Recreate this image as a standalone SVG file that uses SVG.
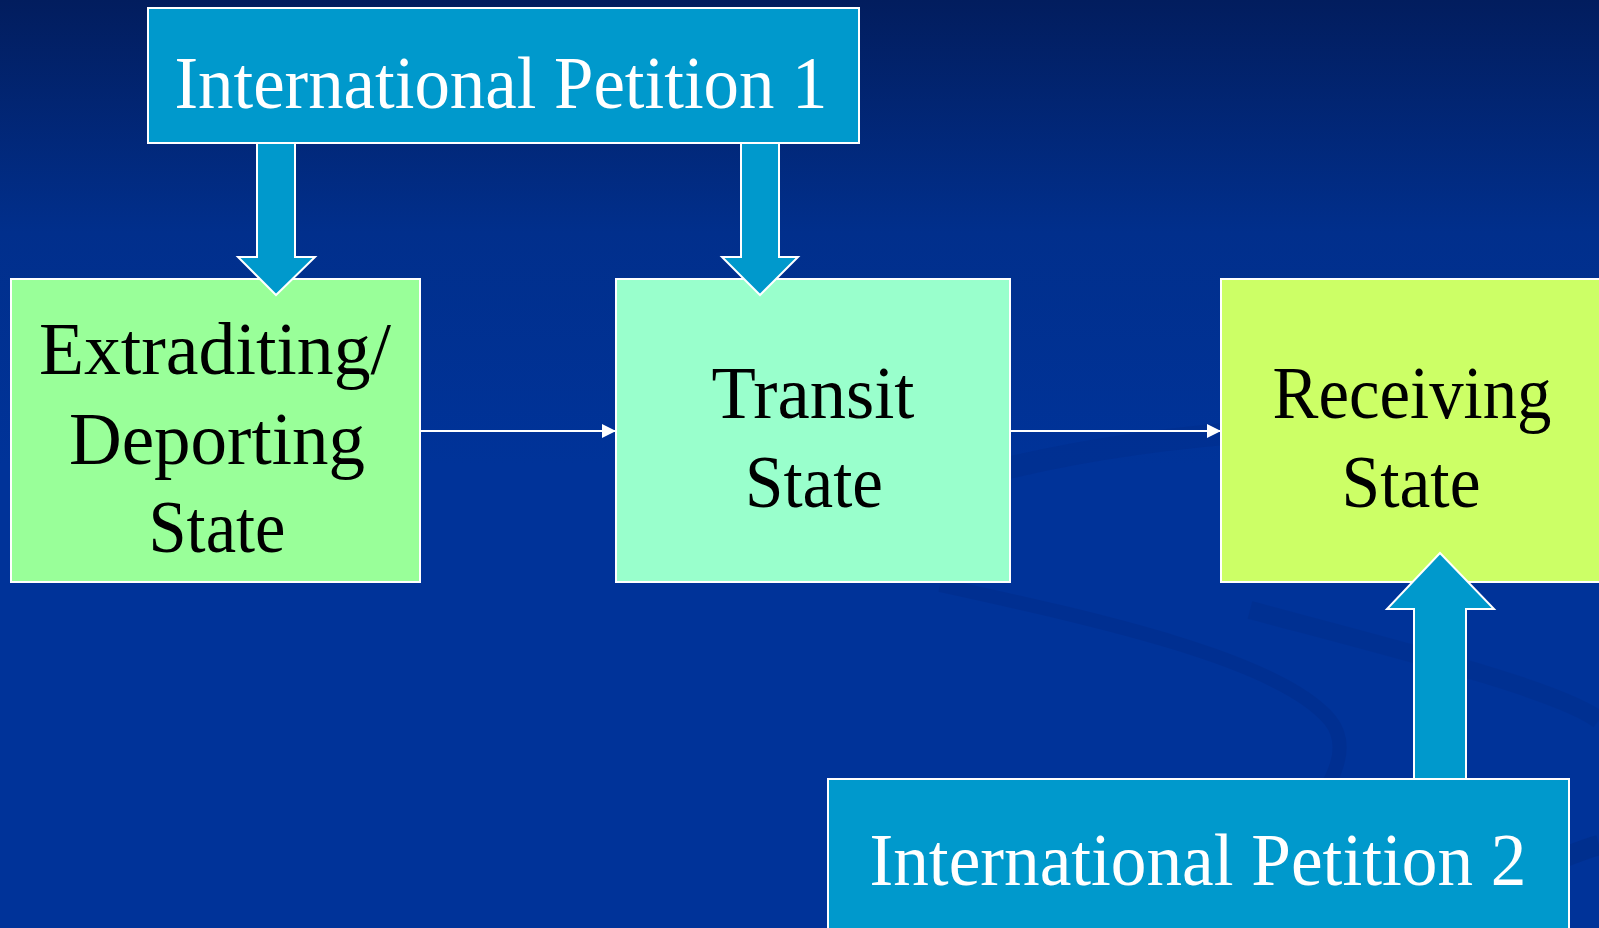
<svg xmlns="http://www.w3.org/2000/svg" width="1599" height="928" viewBox="0 0 1599 928">
<defs>
<linearGradient id="bg" x1="0" y1="0" x2="0" y2="1">
<stop offset="0" stop-color="#021d5e"/>
<stop offset="0.25" stop-color="#012f8c"/>
<stop offset="0.5" stop-color="#003399"/>
<stop offset="1" stop-color="#003399"/>
</linearGradient>
<marker id="ah" viewBox="0 0 10 10" refX="10" refY="5" markerWidth="14" markerHeight="14" markerUnits="userSpaceOnUse" orient="auto">
<path d="M0,0 L10,5 L0,10 z" fill="#ffffff"/>
</marker>
</defs>
<style>
.petition{fill:#0099cc;stroke:#ffffff;stroke-width:2}
.state{stroke:#ffffff;stroke-width:2}
.big{fill:#0099cc;stroke:#ffffff;stroke-width:2;stroke-linejoin:miter}
.lbl{font-family:"Liberation Serif","Times New Roman",serif;font-size:74px;text-anchor:middle}
.w{fill:#ffffff}
.k{fill:#000000}
.conn{stroke:#ffffff;stroke-width:2;fill:none}
</style>
<rect x="0" y="0" width="1599" height="928" fill="url(#bg)"/>
<g id="swooshes" fill="none" opacity="0.25">
<path d="M940,585 C1100,620 1280,660 1330,720 C1370,770 1280,860 1150,928" stroke="#00257a" stroke-width="14"/>
<path d="M1000,470 C1200,420 1450,420 1599,430" stroke="#00287f" stroke-width="22"/>
<path d="M1250,610 C1400,650 1560,690 1599,720" stroke="#002a80" stroke-width="18"/>
<path d="M1530,870 C1560,860 1580,850 1599,845" stroke="#002470" stroke-width="20"/>
</g>
<g id="connectors">
<line class="conn" x1="420" y1="431" x2="616" y2="431" marker-end="url(#ah)"/>
<line class="conn" x1="1010" y1="431" x2="1221" y2="431" marker-end="url(#ah)"/>
</g>
<g id="extraditing">
<rect class="state" x="11" y="279" width="409" height="303" fill="#99ff99"/>
<text class="lbl k" x="215" y="374" textLength="352" lengthAdjust="spacingAndGlyphs">Extraditing/</text>
<text class="lbl k" x="217" y="464" textLength="296" lengthAdjust="spacingAndGlyphs">Deporting</text>
<text class="lbl k" x="217" y="552" textLength="137" lengthAdjust="spacingAndGlyphs">State</text>
</g>
<g id="transit">
<rect class="state" x="616" y="279" width="394" height="303" fill="#99ffcc"/>
<text class="lbl k" x="813" y="418" textLength="203" lengthAdjust="spacingAndGlyphs">Transit</text>
<text class="lbl k" x="814" y="507" textLength="138" lengthAdjust="spacingAndGlyphs">State</text>
</g>
<g id="receiving">
<rect class="state" x="1221" y="279" width="390" height="303" fill="#ccff66"/>
<text class="lbl k" x="1412" y="418" textLength="279" lengthAdjust="spacingAndGlyphs">Receiving</text>
<text class="lbl k" x="1411" y="507" textLength="139" lengthAdjust="spacingAndGlyphs">State</text>
</g>
<g id="down-arrow-1">
<polygon class="big" points="257,143 295,143 295,257 315,257 276,295 238,257 257,257"/>
</g>
<g id="down-arrow-2">
<polygon class="big" points="741,143 779,143 779,257 798,257 760,295 722,257 741,257"/>
</g>
<g id="up-arrow">
<polygon class="big" points="1414,779 1414,609 1387,609 1440,553 1494,609 1466,609 1466,779"/>
</g>
<g id="petition1">
<rect class="petition" x="148" y="8" width="711" height="135"/>
<text class="lbl w" x="501" y="108" textLength="653" lengthAdjust="spacingAndGlyphs">International Petition 1</text>
</g>
<g id="petition2">
<rect class="petition" x="828" y="779" width="741" height="160"/>
<text class="lbl w" x="1198" y="885" textLength="657" lengthAdjust="spacingAndGlyphs">International Petition 2</text>
</g>
</svg>
